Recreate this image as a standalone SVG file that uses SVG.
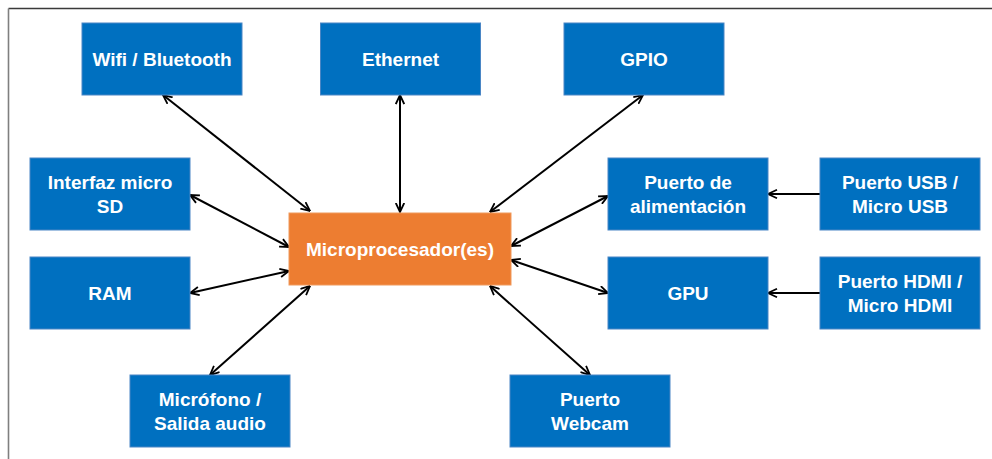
<svg xmlns="http://www.w3.org/2000/svg" width="992" height="459" viewBox="0 0 992 459">
<style>
.b{fill:#0070C0;stroke:#4a86c5;stroke-width:1}
.o{fill:#ED7D31;stroke:#f09a5c;stroke-width:1}
text{font-family:"Liberation Sans",Arial,sans-serif;font-weight:bold;font-size:19px;fill:#fff;text-anchor:middle}
.c line{stroke:#000;stroke-width:2}
</style>
<defs>
<marker id="ah" viewBox="0 0 10 10" refX="9.5" refY="5" markerWidth="10" markerHeight="10" markerUnits="userSpaceOnUse" orient="auto-start-reverse">
<path d="M0.5,0.8 L9.5,5 L0.5,9.2" fill="none" stroke="#000" stroke-width="1.8"/>
</marker>
</defs>
<rect width="992" height="459" fill="#fff"/>
<line x1="8.5" y1="8.5" x2="992" y2="8.5" stroke="#3a3a3a" stroke-width="1.6"/>
<line x1="8.5" y1="8.5" x2="8.5" y2="459" stroke="#7f7f7f" stroke-width="1.6"/>
<g class="c">
<line x1="163" y1="95" x2="310" y2="211" marker-start="url(#ah)" marker-end="url(#ah)"/>
<line x1="400" y1="95" x2="400" y2="212" marker-start="url(#ah)" marker-end="url(#ah)"/>
<line x1="643" y1="95" x2="490" y2="212" marker-start="url(#ah)" marker-end="url(#ah)"/>
<line x1="190" y1="195" x2="289" y2="247" marker-start="url(#ah)" marker-end="url(#ah)"/>
<line x1="190" y1="293" x2="289" y2="271" marker-start="url(#ah)" marker-end="url(#ah)"/>
<line x1="210" y1="375" x2="310" y2="286" marker-start="url(#ah)" marker-end="url(#ah)"/>
<line x1="590" y1="375" x2="490" y2="286" marker-start="url(#ah)" marker-end="url(#ah)"/>
<line x1="511" y1="246" x2="608" y2="196" marker-start="url(#ah)" marker-end="url(#ah)"/>
<line x1="511" y1="260" x2="608" y2="293" marker-start="url(#ah)" marker-end="url(#ah)"/>
<line x1="820" y1="194" x2="768" y2="194" marker-end="url(#ah)"/>
<line x1="820" y1="293" x2="768" y2="293" marker-end="url(#ah)"/>
</g>
<g id="wifi"><rect class="b" x="82" y="23" width="160" height="72"/><text x="162" y="65.5">Wifi / Bluetooth</text></g>
<g id="ethernet"><rect class="b" x="320.5" y="23" width="160" height="72"/><text x="400.5" y="65.5">Ethernet</text></g>
<g id="gpio"><rect class="b" x="564" y="23" width="160" height="72"/><text x="644" y="65.5">GPIO</text></g>
<g id="sd"><rect class="b" x="30" y="158" width="160" height="72"/><text x="110" y="189">Interfaz micro</text><text x="110" y="212.5">SD</text></g>
<g id="ram"><rect class="b" x="30" y="257" width="160" height="72"/><text x="110" y="299.5">RAM</text></g>
<g id="cpu"><rect class="o" x="289" y="213" width="222" height="72"/><text x="400" y="255.5">Microprocesador(es)</text></g>
<g id="alim"><rect class="b" x="608" y="158" width="160" height="72"/><text x="688" y="189">Puerto de</text><text x="688" y="212.5">alimentación</text></g>
<g id="usb"><rect class="b" x="820" y="158" width="160" height="72"/><text x="900" y="189">Puerto USB /</text><text x="900" y="212.5">Micro USB</text></g>
<g id="gpu"><rect class="b" x="608" y="257" width="160" height="72"/><text x="688" y="299.5">GPU</text></g>
<g id="hdmi"><rect class="b" x="820" y="257" width="160" height="72"/><text x="900" y="288">Puerto HDMI /</text><text x="900" y="311.5">Micro HDMI</text></g>
<g id="mic"><rect class="b" x="130" y="375" width="160" height="72"/><text x="210" y="406">Micrófono /</text><text x="210" y="429.5">Salida audio</text></g>
<g id="webcam"><rect class="b" x="510" y="375" width="160" height="72"/><text x="590" y="406">Puerto</text><text x="590" y="429.5">Webcam</text></g>
</svg>
